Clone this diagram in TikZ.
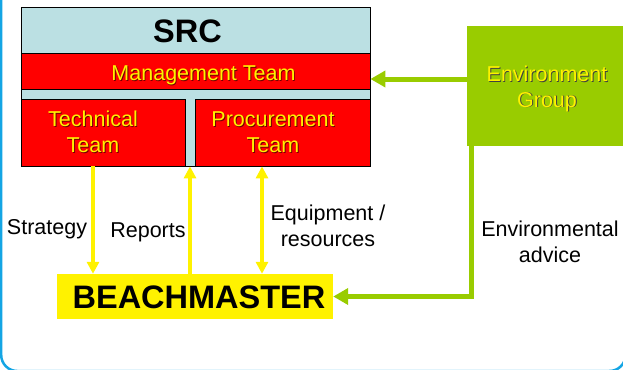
\documentclass[tikz,border=0pt]{standalone}
\usepackage{fontspec}
\setmainfont{Liberation Sans}
\usetikzlibrary{arrows, arrows.meta}
\usetikzlibrary{calc}

\definecolor{srcblue}{RGB}{187,224,227}
\definecolor{envgreen}{RGB}{153,204,0}
\definecolor{framecol}{RGB}{20,165,228}

\newcommand{\shadowtxt}[2]{\makebox[0pt][l]{\kern0.9pt\raisebox{-0.9pt}{\textcolor{#1}{#2}}}#2}

\begin{document}
\begin{tikzpicture}[x=1pt, y=-1pt,
    box/.style={rectangle, draw=black, line width=0.8pt, inner sep=0pt},
    txt/.style={font=\fontsize{21.5}{25.8}\selectfont, inner sep=0pt},
    bigtxt/.style={font=\fontsize{32.5}{39}\selectfont\bfseries, inner sep=0pt},
    ylw/.style={draw=yellow, line width=4pt, -{Triangle[length=12pt, width=12pt]}},
    grn/.style={draw=envgreen, line width=5pt, -{Triangle[length=15pt, width=16pt]}}]
      \useasboundingbox (0, 0) rectangle (623, 369);
      \clip (0, 0) rectangle (623, 369);
      \draw[framecol, line width=2.5pt, rounded corners=16pt] (1.2, -40) rectangle (625.5, 371);

      \node[box, fill=srcblue, minimum width=349pt, minimum height=159pt] (src) at (195.5, 86.5) {};
      \node[box, fill=red, minimum width=349pt, minimum height=36pt] (mgmt) at (195.5, 71) {};
      \node[box, fill=red, minimum width=164pt, minimum height=67pt] (tech) at (103, 132.5) {};
      \node[box, fill=red, minimum width=175pt, minimum height=67pt] (proc) at (282.5, 132.5) {};
      \node[rectangle, fill=envgreen, minimum width=160pt, minimum height=120pt] (env) at (547, 86) {};
      \node[rectangle, fill=yellow, minimum width=276pt, minimum height=45pt] (beach) at (195, 296.5) {};

      \node[bigtxt, anchor=base] (srctitle) at (187.5, 43) {SRC};
      \node[txt, text=yellow, anchor=base] (mgmttext) at (203.5, 81) {\shadowtxt{red!45!black}{Management Team}};
      \node[txt, text=yellow, align=center] (techtext) at (93, 132.5) {\shadowtxt{red!45!black}{Technical}\\\shadowtxt{red!45!black}{Team}};
      \node[txt, text=yellow, align=center] (proctext) at (273, 132.5) {\shadowtxt{red!45!black}{Procurement}\\\shadowtxt{red!45!black}{Team}};
      \node[txt, text=yellow, align=center] (envtext) at (547, 89) {\shadowtxt{black!75}{Environment}\\\shadowtxt{black!75}{Group}};
      \node[bigtxt, anchor=base] (beachtext) at (199, 308) {BEACHMASTER};

      \node[txt, anchor=base] (strategy) at (47, 234) {Strategy};
      \node[txt, anchor=base] (reports) at (148, 237) {Reports};
      \node[txt, align=center] (equip) at (328, 225.7) {Equipment /\\resources};
      \node[txt, align=center] (envadvice) at (550, 241.7) {Environmental\\advice};

      \coordinate (stratTop) at ([xshift=-10pt]tech.south);
      \coordinate (repTop) at ([xshift=-5.5pt]src.south);
      \coordinate (equipTop) at ([xshift=-20.5pt]proc.south);
      \draw[ylw] (stratTop) -- (stratTop |- beach.north);
      \draw[ylw] (repTop |- beach.north) -- (repTop);
      \draw[ylw, {Triangle[length=12pt, width=12pt]}-{Triangle[length=12pt, width=12pt]}] (equipTop) -- (equipTop |- beach.north);

      \coordinate (envOut) at ([yshift=7pt]env.west);
      \coordinate (envDown) at ([xshift=5pt]env.south west);
      \draw[grn] (envOut) -- (envOut -| mgmt.east);
      \draw[grn] (envDown) |- (beach.east);
    \end{tikzpicture}
\end{document}
